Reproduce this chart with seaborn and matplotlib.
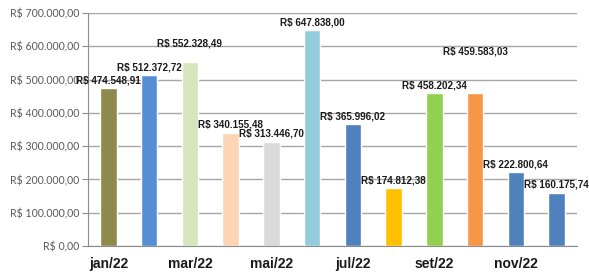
## Monthly revenue 2022 - bar chart with BRL labels
import pandas as pd
import matplotlib.pyplot as plt
import seaborn as sns
from matplotlib.ticker import FuncFormatter

months = ["jan/22", "fev/22", "mar/22", "abr/22", "mai/22", "jun/22",
          "jul/22", "ago/22", "set/22", "out/22", "nov/22", "dez/22"]
values = [474548.91, 512372.72, 552328.49, 340155.48, 313446.70, 647838.00,
          365996.02, 174812.38, 458202.34, 459583.03, 222800.64, 160175.74]
bar_colors = ["#8E8A4E", "#558ED5", "#D7E4BD", "#FCD5B5", "#D9D9D9", "#93CDDD",
              "#4F81BD", "#FFC000", "#92D050", "#F79646", "#4F81BD", "#4F81BD"]
# extra lift (points) for labels that were dragged up in the original sheet
label_lift = [0, 0, 8, 0, 0, 0, 0, 0, 0, 24, 0, 0]

def brl(v):
    s = f"{v:,.2f}".replace(",", "X").replace(".", ",").replace("X", ".")
    return "R$ " + s

df = pd.DataFrame({"month": months, "value": values})

sns.set_style("white")
plt.rcParams["font.family"] = ["Lato", "DejaVu Sans"]
bold_font = ["Liberation Sans", "DejaVu Sans"]

fig = plt.figure(figsize=(5.89, 2.72), dpi=100)
ax = fig.add_axes([88/589, 26/272, (577-88)/589, (246-13)/272])

sns.barplot(data=df, x="month", y="value", hue="month", palette=bar_colors,
            legend=False, width=0.4, saturation=1, ax=ax)

for i, v in enumerate(values):
    ax.annotate(brl(v), (i, v), xytext=(0, 2 + label_lift[i]), textcoords="offset points",
                ha="center", va="bottom", fontsize=7.1, fontweight="bold", color="#1a1a1a",
                family=bold_font, annotation_clip=False)

ax.set_ylim(0, 700000)
ax.set_xlim(-0.5, 11.5)
ax.set_yticks(range(0, 700001, 100000))
ax.yaxis.set_major_formatter(FuncFormatter(lambda v, p: brl(v)))
ax.grid(axis="y", color="#A6A6A6", linewidth=1)
ax.set_axisbelow(True)

ax.set_xticks(range(0, 12, 2))
ax.set_xticklabels(months[::2], fontsize=10, fontweight="bold", color="#1a1a1a", family=bold_font)
ax.set_xticks([x - 0.5 for x in range(0, 13, 2)], minor=True)
ax.tick_params(axis="x", which="major", length=0, pad=8)
ax.tick_params(axis="x", which="minor", length=4, color="#8C8C8C", width=1)
ax.tick_params(axis="y", length=4, pad=2, color="#8C8C8C", labelsize=7.6, labelcolor="#595959", left=True)
ax.set_xlabel("")
ax.set_ylabel("")

for side in ["top", "right"]:
    ax.spines[side].set_visible(False)
for side in ["left", "bottom"]:
    ax.spines[side].set_color("#8C8C8C")

fig.savefig("out.png", dpi=100)
